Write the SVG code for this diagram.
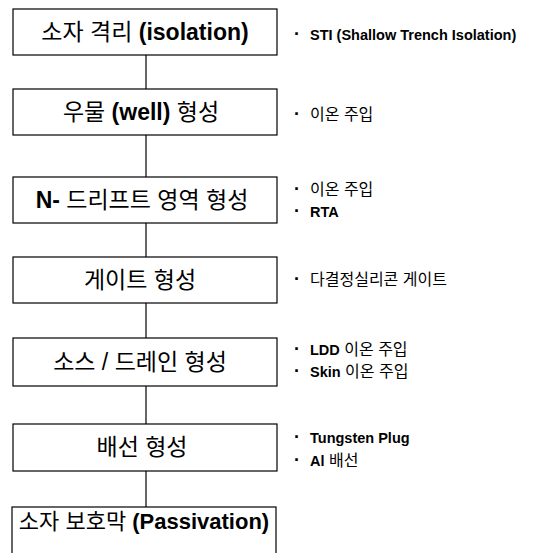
<svg xmlns="http://www.w3.org/2000/svg" width="542" height="553" viewBox="0 0 542 553">
<style>
.box{fill:#fff;stroke:#000;stroke-width:1.2}
.conn{stroke:#000;stroke-width:1.2;fill:none}
.t{font-family:"Liberation Sans","Noto Sans CJK KR",sans-serif;font-size:23px;text-anchor:middle;fill:#000}
.b{font-weight:bold}
.s{font-family:"Liberation Sans","Noto Sans CJK KR",sans-serif;font-size:16px;fill:#000}
.sb{font-weight:bold;font-size:14.5px}
.bl{font-family:"Liberation Sans",sans-serif;font-size:18px;font-weight:bold;fill:#000}
</style>
<rect width="542" height="553" fill="#fff"/>
<g id="connectors">
<line class="conn" x1="146" y1="55" x2="146" y2="89"/>
<line class="conn" x1="146" y1="135" x2="146" y2="177"/>
<line class="conn" x1="146" y1="223" x2="146" y2="257"/>
<line class="conn" x1="146" y1="303" x2="146" y2="338"/>
<line class="conn" x1="146" y1="386" x2="146" y2="424"/>
<line class="conn" x1="146" y1="471" x2="146" y2="507"/>
</g>
<g id="n1">
<rect class="box" x="13" y="9" width="264" height="46"/>
<text class="t" x="145" y="40">소자 격리 <tspan class="b">(isolation)</tspan></text>
</g>
<g id="n2">
<rect class="box" x="13" y="89" width="264" height="46"/>
<text class="t" x="141" y="120">우물 <tspan class="b">(well)</tspan> 형성</text>
</g>
<g id="n3">
<rect class="box" x="13" y="177" width="264" height="46"/>
<text class="t" x="142" y="208"><tspan class="b">N-</tspan> 드리프트 영역 형성</text>
</g>
<g id="n4">
<rect class="box" x="13" y="257" width="264" height="46"/>
<text class="t" x="140" y="288">게이트 형성</text>
</g>
<g id="n5">
<rect class="box" x="13" y="338" width="264" height="48"/>
<text class="t" x="140" y="370">소스 / 드레인 형성</text>
</g>
<g id="n6">
<rect class="box" x="13" y="424" width="264" height="47"/>
<text class="t" x="142" y="455">배선 형성</text>
</g>
<g id="n7">
<rect class="box" x="12" y="507" width="264" height="60"/>
<text class="t" x="144" y="529" style="font-size:22px">소자 보호막 <tspan class="b">(Passivation)</tspan></text>
</g>
<g id="notes">
<text class="bl" x="294" y="40">·</text>
<text class="s sb" x="310" y="40">STI (Shallow Trench Isolation)</text>
<text class="bl" x="294" y="120">·</text>
<text class="s" x="310" y="120">이온 주입</text>
<text class="bl" x="294" y="195">·</text>
<text class="s" x="310" y="195">이온 주입</text>
<text class="bl" x="294" y="217">·</text>
<text class="s sb" x="310" y="217">RTA</text>
<text class="bl" x="294" y="285">·</text>
<text class="s" x="310" y="285">다결정실리콘 게이트</text>
<text class="bl" x="294" y="355">·</text>
<text class="s" x="310" y="355"><tspan class="sb">LDD</tspan> 이온 주입</text>
<text class="bl" x="294" y="377">·</text>
<text class="s" x="310" y="377"><tspan class="sb">Skin</tspan> 이온 주입</text>
<text class="bl" x="294" y="443">·</text>
<text class="s sb" x="310" y="443">Tungsten Plug</text>
<text class="bl" x="294" y="466">·</text>
<text class="s" x="310" y="466"><tspan class="sb">Al</tspan> 배선</text>
</g>
</svg>
